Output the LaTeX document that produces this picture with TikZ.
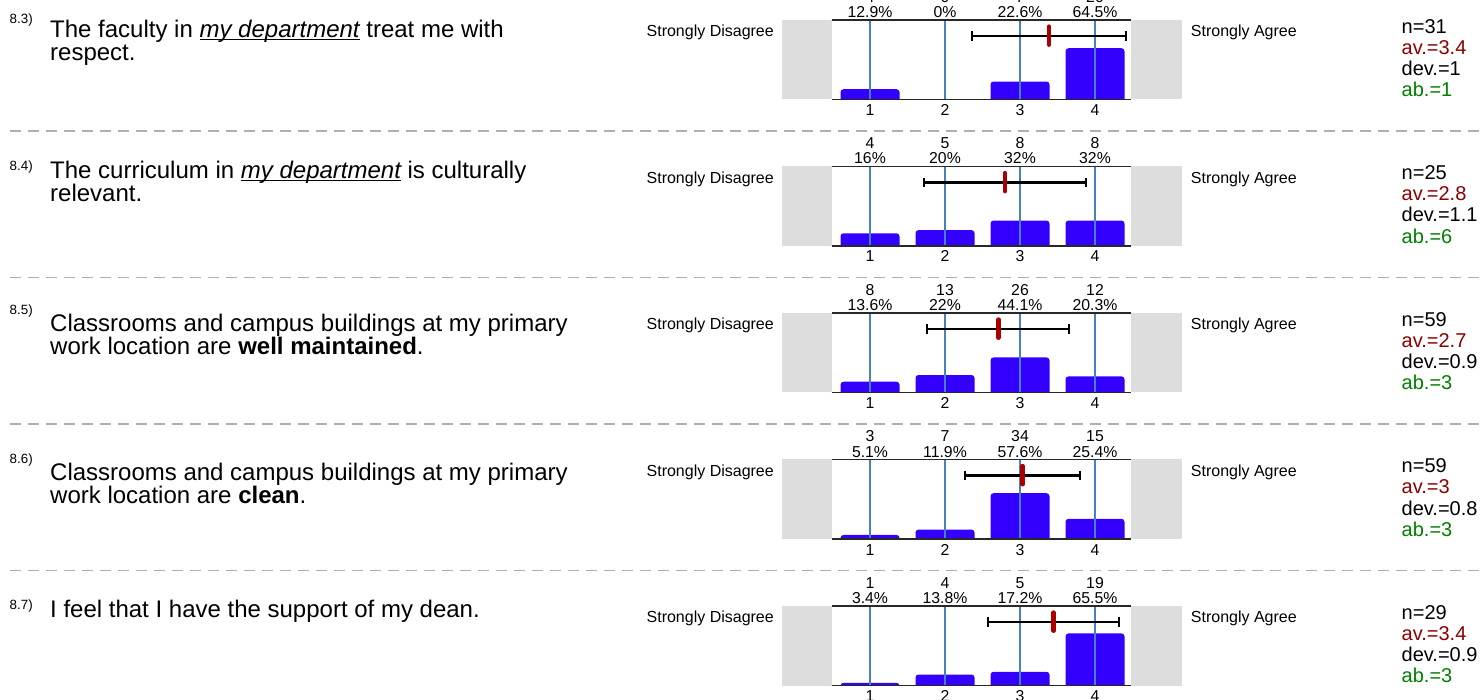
\documentclass[tikz,border=0pt]{standalone}
\usepackage{fontspec}
\setmainfont{Liberation Sans}
\newlength\ulwidth
\newcommand\ulit[1]{\settowidth\ulwidth{\itshape #1}\rlap{\itshape #1}\rule[-2.8pt]{\ulwidth}{1.3pt}}
\definecolor{barblue}{RGB}{51,0,255}
\definecolor{axisblue}{RGB}{70,130,190}
\definecolor{greybox}{RGB}{221,221,221}
\definecolor{meanred}{RGB}{170,0,0}
\definecolor{avred}{RGB}{139,0,0}
\definecolor{abgreen}{RGB}{0,128,0}
\definecolor{sepgrey}{RGB}{175,175,175}
\definecolor{framegrey}{RGB}{40,40,40}
\tikzset{
  qtext/.style={font=\fontsize{24}{28}\selectfont, inner sep=0pt, anchor=base west, text=black},
  qnum/.style={font=\fontsize{13.4}{15}\selectfont, inner sep=0pt, anchor=base west},
  numlabel/.style={font=\fontsize{15.8}{18}\selectfont, inner sep=0pt, anchor=base},
  scalelabel/.style={font=\fontsize{16}{18}\selectfont, inner sep=0pt},
  statline/.style={font=\fontsize{20}{22}\selectfont, inner sep=0pt, anchor=base west},
  sepline/.style={draw=sepgrey, line width=1.3pt, dash pattern=on 11pt off 7pt},
  axisline/.style={draw=framegrey, line width=1.6pt},
  vline/.style={draw=axisblue, line width=1.3pt},
  errbar/.style={draw=black, line width=2.1pt},
  meanmark/.style={draw=meanred, line width=4.5pt, line cap=round},
  barfill/.style={fill=barblue, rounded corners=3pt}
}
% #1 top, #2 list count/pct, #3 mean, #4 sd, #5 n, #6 av, #7 dev, #8 ab, #9 id
\newcommand\surveychart[9]{%
  \pgfmathsetmacro\T{#1}%
  \pgfmathsetmacro\B{#1+79.5}%
  \fill[greybox] (782,\T) rectangle (831.7,\B);
  \fill[greybox] (1131,\T) rectangle (1182,\B);
  \begin{scope}
    \clip (831.7,\T) rectangle (1131,\B);
    \foreach \cn/\pc [count=\i from 0] in {#2} {
      \pgfmathsetmacro\xc{870+75*\i}
      \pgfmathsetmacro\h{\pc*0.795}
      \ifdim\h pt>0.01pt
        \path[barfill] (\xc-29.5,\B+4) rectangle (\xc+29.5,\B-\h);
      \fi
    }
  \end{scope}
  \foreach \i in {0,...,3} {
    \draw[vline] (870+75*\i,\T) -- (870+75*\i,\B);
  }
  \draw[axisline] (831.7,\T) -- (1131,\T);
  \draw[axisline] (831.7,\B) -- (1131,\B);
  \foreach \cn/\pc [count=\i from 0] in {#2} {
    \node[numlabel] (#9cnt\i) at (870+75*\i,\T-17.5) {\cn};
    \node[numlabel] (#9pct\i) at (870+75*\i,\T-2.5) {\pc\%};
    \node[numlabel] (#9ax\i) at (870+75*\i,\B+16) {\number\numexpr\i+1\relax};
  }
  \pgfmathsetmacro\ey{#1+16}%
  \pgfmathsetmacro\xl{870+75*(#3-#4-1)}%
  \pgfmathsetmacro\xr{870+75*(#3+#4-1)}%
  \pgfmathsetmacro\xm{870+75*(#3-1)}%
  \draw[errbar] (\xl,\ey) -- (\xr,\ey);
  \draw[errbar] (\xl,\ey-4.7) -- (\xl,\ey+4.7);
  \draw[errbar] (\xr,\ey-4.7) -- (\xr,\ey+4.7);
  \draw[meanmark] (\xm,\T+6.6) -- (\xm,\T+24.7);
  \node[scalelabel, anchor=base east] (#9sd) at (774,\T+16.6) {Strongly Disagree};
  \node[scalelabel, anchor=base west] (#9sa) at (1190.7,\T+16.6) {Strongly Agree};
  \node[statline] (#9n) at (1401.5,\T+13.3) {n=#5};
  \node[statline, text=avred] (#9av) at (1401.5,\T+34.4) {av.=#6};
  \node[statline] (#9dev) at (1401.5,\T+55.5) {dev.=#7};
  \node[statline, text=abgreen] (#9ab) at (1401.5,\T+76.6) {ab.=#8};
}
\begin{document}
\begin{tikzpicture}[x=1pt,y=-1pt]
\useasboundingbox (0,0) rectangle (1481,700);
\clip (0,0) rectangle (1481,700);
\fill[white] (0,0) rectangle (1481,700);
% separators
\foreach \s in {131,277.5,424,570.5} {
  \draw[sepline] (10,\s) -- (1481,\s);
}
% charts
\surveychart{20}{4/12.9,0/0,7/22.6,20/64.5}{3.387}{1.023}{31}{3.4}{1}{1}{a}
\surveychart{166.5}{4/16,5/20,8/32,8/32}{2.8}{1.08}{25}{2.8}{1.1}{6}{b}
\surveychart{313}{8/13.6,13/22,26/44.1,12/20.3}{2.712}{0.947}{59}{2.7}{0.9}{3}{c}
\surveychart{459.5}{3/5.1,7/11.9,34/57.6,15/25.4}{3.034}{0.765}{59}{3}{0.8}{3}{d}
\surveychart{606}{1/3.4,4/13.8,5/17.2,19/65.5}{3.448}{0.870}{29}{3.4}{0.9}{3}{e}
% questions
\node[qnum] (q3n) at (9.5,24) {8.3)};
\node[qtext] (q3a) at (50,37.5) {The faculty in \ulit{my department} treat me with};
\node[qtext] (q3b) at (50,61) {respect.};
\node[qnum] (q4n) at (9.5,170.5) {8.4)};
\node[qtext] (q4a) at (50,178.3) {The curriculum in \ulit{my department} is culturally};
\node[qtext] (q4b) at (50,201.8) {relevant.};
\node[qnum] (q5n) at (9.5,315) {8.5)};
\node[qtext] (q5a) at (50,331.5) {Classrooms and campus buildings at my primary};
\node[qtext] (q5b) at (50,355) {work location are \textbf{well maintained}.};
\node[qnum] (q6n) at (9.5,463.5) {8.6)};
\node[qtext] (q6a) at (50,480) {Classrooms and campus buildings at my primary};
\node[qtext] (q6b) at (50,503.5) {work location are \textbf{clean}.};
\node[qnum] (q7n) at (9.5,609) {8.7)};
\node[qtext] (q7a) at (50,617.5) {I feel that I have the support of my dean.};
\end{tikzpicture}
\end{document}
